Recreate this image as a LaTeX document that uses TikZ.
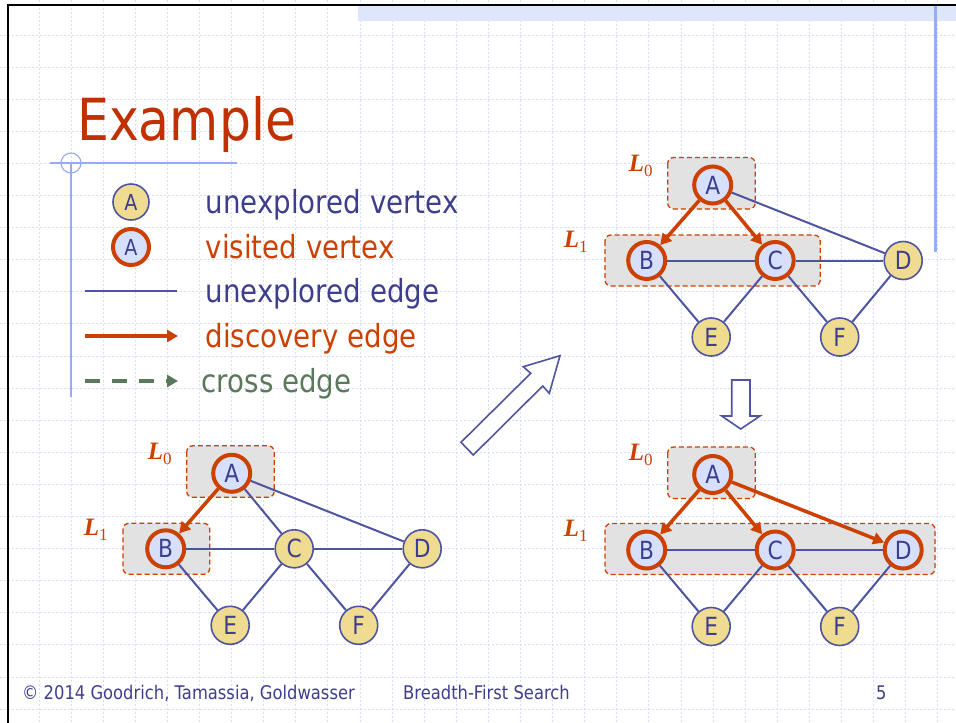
\documentclass[tikz,border=0pt]{standalone}
\usepackage{fontspec}
\setmainfont[FakeStretch=0.87]{DejaVu Sans}
\newfontfamily\serifL{Liberation Serif}
\usetikzlibrary{arrows.meta}
\definecolor{titlered}{RGB}{192,48,0}
\definecolor{navy}{RGB}{62,62,140}
\definecolor{edgeblue}{RGB}{78,84,160}
\definecolor{vred}{RGB}{204,64,0}
\definecolor{yellowv}{RGB}{240,220,145}
\definecolor{lav}{RGB}{214,224,252}
\definecolor{boxgray}{RGB}{226,226,226}
\definecolor{crossgreen}{RGB}{90,120,90}
\definecolor{gridc}{RGB}{212,222,250}
\definecolor{decoblue}{RGB}{150,172,242}
\definecolor{bandblue}{RGB}{222,230,252}
\tikzset{
  uv/.style={circle, draw=edgeblue, line width=1.6pt, fill=yellowv, minimum size=38pt, inner sep=0pt, text=navy, font=\fontsize{25}{25}\selectfont},
  vv/.style={uv, draw=vred, line width=4pt, fill=lav, minimum size=37pt},
  ue/.style={draw=edgeblue, line width=2pt},
  de/.style={draw=vred, line width=3.5pt, -{Triangle[length=11pt,width=12pt]}},
  lbox/.style={draw=vred, dash pattern=on 5pt off 3pt, fill=boxgray, rounded corners=6pt, line width=1.3pt},
  lvl/.style={anchor=base west, text=vred, inner sep=0pt},
  gridline/.style={draw=gridc, line width=0.9pt, dash pattern=on 2pt off 2pt},
  legtext/.style={anchor=base west, inner sep=0pt, font=\fontsize{31.8}{31.8}\selectfont},
  foot/.style={anchor=base west, inner sep=0pt, text=navy, font=\fontsize{18.8}{18.8}\selectfont},
  blockarrow/.style={draw=edgeblue, line width=1.6pt, fill=white, line join=miter}
}
\newcommand\lvlL[1]{{\serifL\fontsize{25}{25}\selectfont\bfseries\itshape L}\raisebox{-5pt}{\serifL\fontsize{17}{17}\selectfont #1}}
\begin{document}
\begin{tikzpicture}[x=1pt,y=-1pt]
\useasboundingbox (0,0) rectangle (956,723);
\fill[white] (0,0) rectangle (956,723);
% grid
\foreach \i in {0,...,28} \draw[gridline] ({39+32.1*\i},0) -- ({39+32.1*\i},723);
\foreach \j in {0,...,21} \draw[gridline] (0,{35+32.1*\j}) -- (956,{35+32.1*\j});
% top band and border
\fill[bandblue] (358,5) rectangle (956,21);
\draw[black, line width=2.5pt] (8,723) -- (8,5) -- (956,5);
\draw[decoblue, line width=3pt] (935,6) -- (935,252);
% title
\node[anchor=base west, inner sep=0pt, text=titlered, font=\fontsize{58}{58}\selectfont] (title) at (77,140) {Example};
\draw[decoblue, line width=1.1pt] (50,163) -- (237,163);
\draw[decoblue, line width=1.1pt] (71,163) circle (10);
\draw[decoblue, line width=1.1pt] (71,163) -- (71,397);
% legend
\node[uv, minimum size=36pt, font=\fontsize{22}{22}\selectfont] (lu) at (131,202) {A};
\node[vv, minimum size=36pt, font=\fontsize{22}{22}\selectfont] (lv) at (131,247) {A};
\coordinate (l1s) at (85,291); \coordinate (l1e) at (177,291);
\coordinate (l2s) at (85,336); \coordinate (l2e) at (178,336);
\coordinate (l3s) at (85,381); \coordinate (l3e) at (178,381);
\draw[ue] (l1s) -- (l1e);
\draw[draw=vred, line width=3.5pt, -{Triangle[length=11pt,width=12pt]}] (l2s) -- (l2e);
\draw[draw=crossgreen, line width=4pt, dash pattern=on 15pt off 12pt, -{Triangle[length=11pt,width=12pt]}] (l3s) -- (l3e);
\node[legtext, text=navy] (t1) at (205.5,213.3) {unexplored vertex};
\node[legtext, text=vred] (t2) at (205.5,258.3) {visited vertex};
\node[legtext, text=navy] (t3) at (205.5,302) {unexplored edge};
\node[legtext, text=vred] (t4) at (205.5,347) {discovery edge};
\node[legtext, text=crossgreen] (t5) at (201.5,392) {cross edge};
% block arrows
\draw[blockarrow] (560,355.7) -- (523.3,366.7) -- (530.7,373.3) -- (461,442.3) -- (473.3,455) -- (542.7,386) -- (549.3,393.3) -- cycle;
\draw[blockarrow] (731.7,380) -- (750,380) -- (750,416) -- (760,416) -- (740.7,429) -- (721.7,416) -- (731.7,416) -- cycle;
% graph 1
\begin{scope}[shift={(231.7,473.3)}]
\fill[lbox] (-45,-27.5) rectangle (42.5,24);
\fill[lbox] (-108.7,50) rectangle (-22,101);
\node[lvl] (g1l0) at (-84,-14) {\lvlL{0}};
\node[lvl] (g1l1) at (-148,62) {\lvlL{1}};
\node[vv] (a1) at (0,0) {A};
\node[vv] (b1) at (-66,75.5) {B};
\node[uv] (c1) at (62.5,75.5) {C};
\node[uv] (d1) at (190.5,75.5) {D};
\node[uv] (e1) at (-1.5,152) {E};
\node[uv] (f1) at (127,152) {F};
\draw[ue] (a1) -- (c1); \draw[ue] (a1) -- (d1); \draw[ue] (b1) -- (c1); \draw[ue] (c1) -- (d1);
\draw[ue] (b1) -- (e1); \draw[ue] (c1) -- (e1); \draw[ue] (c1) -- (f1); \draw[ue] (d1) -- (f1);
\draw[de] (a1) -- (b1);
\end{scope}
% graph 2
\begin{scope}[shift={(712.7,185)}]
\fill[lbox] (-45,-27.5) rectangle (42.5,24);
\fill[lbox] (-107.7,50) rectangle (107.5,101);
\node[lvl] (g2l0) at (-84,-14) {\lvlL{0}};
\node[lvl] (g2l1) at (-149,62) {\lvlL{1}};
\node[vv] (a2) at (0,0) {A};
\node[vv] (b2) at (-66,75.5) {B};
\node[vv] (c2) at (62.5,75.5) {C};
\node[uv] (d2) at (190.5,75.5) {D};
\node[uv] (e2) at (-1.5,152) {E};
\node[uv] (f2) at (127,152) {F};
\draw[ue] (a2) -- (d2); \draw[ue] (b2) -- (c2); \draw[ue] (c2) -- (d2);
\draw[ue] (b2) -- (e2); \draw[ue] (c2) -- (e2); \draw[ue] (c2) -- (f2); \draw[ue] (d2) -- (f2);
\draw[de] (a2) -- (b2); \draw[de] (a2) -- (c2);
\end{scope}
% graph 3
\begin{scope}[shift={(712.7,474.5)}]
\fill[lbox] (-45,-27.5) rectangle (42.5,24);
\fill[lbox] (-107.7,49) rectangle (222.3,100);
\node[lvl] (g3l0) at (-84,-14) {\lvlL{0}};
\node[lvl] (g3l1) at (-149,62) {\lvlL{1}};
\node[vv] (a3) at (0,0) {A};
\node[vv] (b3) at (-66,75.5) {B};
\node[vv] (c3) at (62.5,75.5) {C};
\node[vv] (d3) at (190.5,75.5) {D};
\node[uv] (e3) at (-1.5,152) {E};
\node[uv] (f3) at (127,152) {F};
\draw[ue] (b3) -- (c3); \draw[ue] (c3) -- (d3);
\draw[ue] (b3) -- (e3); \draw[ue] (c3) -- (e3); \draw[ue] (c3) -- (f3); \draw[ue] (d3) -- (f3);
\draw[de] (a3) -- (b3); \draw[de] (a3) -- (c3); \draw[de] (a3) -- (d3);
\end{scope}
% footer
\node[foot] (f1t) at (22,699) {\textcopyright{} 2014 Goodrich, Tamassia, Goldwasser};
\node[foot] (f2t) at (403,699) {Breadth-First Search};
\node[foot] (f3t) at (876,699) {5};
\end{tikzpicture}
\end{document}
